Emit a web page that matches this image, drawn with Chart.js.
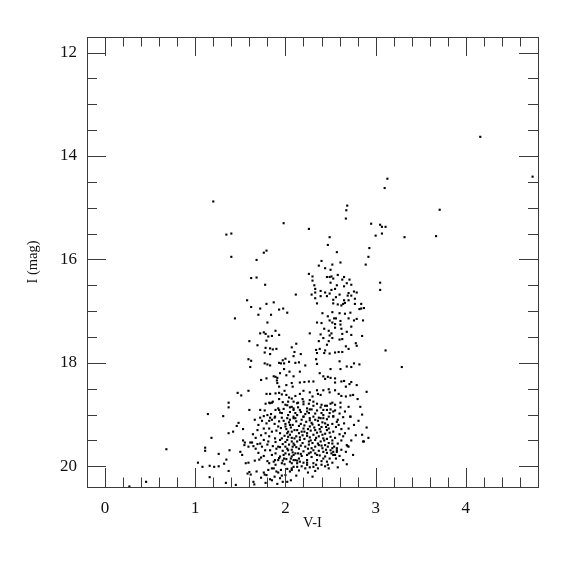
<!DOCTYPE html>
<html>
<head>
<meta charset="utf-8">
<script src="https://cdn.jsdelivr.net/npm/chart.js@4.4.1/dist/chart.umd.min.js"></script>
<style>
  body { margin: 0; background: #fff; }
  #cmd { display: block; }
</style>
</head>
<body>
<canvas id="cmd" width="575" height="575"></canvas>
<script>
// axis ranges (V-I colour, I magnitude)
var xMin = -0.2, xMax = 4.8;
var yMin = 11.7, yMax = 20.4;
var xLabels = [0, 1, 2, 3, 4];
var yLabels = [12, 14, 16, 18, 20];

// stars, as [V-I, I] pairs, grouped by region
var brightStars = [
    [4.16, 13.63], [4.74, 14.40], [3.13, 14.44], [3.10, 14.62], [2.685, 14.96], [2.675, 15.05],
    [3.71, 15.04], [2.67, 15.21], [1.98, 15.30], [2.95, 15.31], [3.05, 15.33], [3.07, 15.37],
    [3.11, 15.37], [2.26, 15.41], [3.07, 15.50], [3.00, 15.54], [3.32, 15.57], [3.67, 15.55],
    [2.49, 15.57], [2.47, 15.72], [2.57, 15.86], [2.93, 15.78], [2.92, 15.95], [2.89, 16.10],
    [1.20, 14.88], [1.345, 15.52], [1.40, 15.50], [1.40, 15.95], [3.05, 16.45], [3.05, 16.59],
    [3.11, 17.76], [3.29, 18.08]
];

var giantBranch = [
    [2.40, 16.03], [2.61, 16.06], [2.52, 16.10], [2.37, 16.12], [2.44, 16.17], [2.50, 16.20],
    [2.26, 16.28], [2.30, 16.33], [2.46, 16.34], [2.49, 16.34], [2.51, 16.33], [2.58, 16.30],
    [2.65, 16.34], [2.63, 16.39], [2.53, 16.37], [2.71, 16.39], [2.30, 16.41], [2.68, 16.46],
    [2.50, 16.45], [2.32, 16.50], [2.73, 16.49], [2.57, 16.50], [2.65, 16.52], [2.55, 16.57],
    [2.33, 16.57], [2.51, 16.59], [2.49, 16.66], [2.60, 16.68], [2.70, 16.65], [2.69, 16.70],
    [2.76, 16.62], [2.79, 16.64], [2.39, 16.61], [2.44, 16.64], [2.29, 16.68], [2.33, 16.64],
    [2.115, 16.68], [2.46, 16.71], [2.56, 16.73], [2.39, 16.71], [2.73, 16.70], [2.77, 16.76],
    [2.33, 16.75], [2.65, 16.79], [2.70, 16.79], [2.53, 16.78], [2.35, 16.85], [2.53, 16.85],
    [2.58, 16.87], [2.62, 16.89], [2.66, 16.84], [2.64, 16.86], [2.77, 16.86], [2.84, 16.86],
    [2.82, 16.96], [2.84, 16.95], [2.87, 16.94], [2.02, 17.03], [2.41, 17.04], [2.47, 17.10],
    [2.52, 17.02], [2.56, 17.14], [2.60, 17.04], [2.66, 17.05], [2.72, 17.03], [2.35, 17.22],
    [2.40, 17.23], [2.49, 17.18], [2.52, 17.22], [2.54, 17.14], [2.55, 17.25], [2.61, 17.19],
    [2.61, 17.26], [2.70, 17.14], [2.76, 17.18], [2.79, 17.15], [2.86, 17.18], [2.73, 17.30],
    [2.43, 17.34], [2.55, 17.32], [2.62, 17.34], [2.68, 17.40], [2.63, 17.44], [2.73, 17.46],
    [2.48, 17.38], [2.51, 17.43], [2.49, 17.47], [2.52, 17.52], [2.27, 17.43], [2.39, 17.45],
    [2.42, 17.52], [2.60, 17.55], [2.63, 17.54], [2.85, 17.48], [2.37, 17.58], [2.48, 17.58],
    [2.46, 17.65], [2.78, 17.62], [2.79, 17.67], [2.07, 17.70], [2.12, 17.63], [2.10, 17.79],
    [2.34, 17.75], [2.35, 17.81], [2.38, 17.73], [2.43, 17.81], [2.44, 17.76], [2.49, 17.82],
    [2.55, 17.80], [2.59, 17.79], [2.67, 17.68], [2.70, 17.73], [2.63, 17.79], [2.09, 17.87],
    [2.17, 17.83], [2.34, 17.93], [2.35, 18.02], [2.60, 17.97], [2.68, 18.07], [2.73, 18.08],
    [2.76, 18.01], [2.82, 18.03], [2.50, 18.12], [2.61, 18.12]
];

var blueSide = [
    [1.76, 15.87], [1.79, 15.83], [1.68, 16.01], [1.62, 16.36], [1.68, 16.35], [1.775, 16.49],
    [1.575, 16.79], [1.87, 16.83], [1.79, 16.86], [1.62, 16.92], [1.72, 16.95], [1.93, 16.97],
    [1.975, 16.95], [1.70, 17.07], [1.84, 17.07], [1.44, 17.14], [1.80, 17.22], [1.72, 17.43],
    [1.76, 17.41], [1.78, 17.44], [1.81, 17.49], [1.85, 17.48], [1.89, 17.38], [1.93, 17.46],
    [1.60, 17.58], [1.69, 17.66], [1.79, 17.57], [1.78, 17.71], [1.83, 17.72], [1.86, 17.74],
    [1.90, 17.73], [1.77, 17.80], [1.83, 17.83], [1.59, 17.93], [1.62, 17.96], [1.61, 18.08],
    [1.77, 18.01], [1.80, 18.03], [1.83, 18.05], [1.93, 18.00], [1.73, 18.33], [1.79, 18.30],
    [1.87, 18.26], [1.89, 18.27], [1.91, 18.29], [1.905, 18.34], [1.91, 18.39], [1.93, 18.46],
    [1.59, 18.54], [1.47, 18.58], [1.51, 18.63], [1.79, 18.60], [1.83, 18.60], [1.89, 18.59],
    [1.93, 18.58], [1.82, 18.77], [1.85, 18.77], [1.93, 18.70], [1.37, 18.77], [1.37, 18.86],
    [1.14, 18.99], [1.31, 19.03], [1.60, 18.91], [1.72, 18.91], [1.77, 18.92], [1.80, 19.01],
    [1.84, 18.99], [1.89, 18.91], [1.93, 18.91], [1.72, 19.06], [1.83, 19.06], [1.88, 19.06],
    [1.78, 18.79], [1.83, 18.78], [1.86, 18.75], [1.92, 18.88], [2.00, 17.92], [1.97, 17.95],
    [1.985, 18.01], [1.95, 18.01], [2.04, 17.98], [2.11, 18.00], [2.15, 17.99], [2.22, 18.05],
    [1.985, 18.12], [1.94, 18.20], [2.045, 18.17], [2.16, 18.17], [2.09, 18.26], [2.01, 18.24]
];

var upperCore = [
    [2.38, 18.20], [2.42, 18.26], [2.47, 18.27], [2.44, 18.31], [2.50, 18.29], [2.55, 18.38],
    [2.55, 18.30], [2.62, 18.36], [2.65, 18.35], [2.67, 18.46], [2.71, 18.41], [2.73, 18.37],
    [2.79, 18.43], [2.21, 18.37], [2.26, 18.36], [2.31, 18.36], [2.16, 18.38], [2.07, 18.39],
    [2.01, 18.43], [2.08, 18.46], [1.99, 18.54], [1.96, 18.61], [2.01, 18.62], [2.04, 18.67],
    [2.90, 18.56], [2.72, 18.63], [2.75, 18.62], [2.67, 18.65], [2.62, 18.64], [2.59, 18.60],
    [2.55, 18.53], [2.49, 18.57], [2.48, 18.51], [2.42, 18.53], [2.39, 18.62], [2.36, 18.60],
    [2.35, 18.53], [2.27, 18.57], [2.20, 18.54], [2.16, 18.60], [2.11, 18.64], [2.07, 18.69],
    [2.19, 18.70], [2.27, 18.72], [2.30, 18.65], [1.97, 18.76], [2.02, 18.82], [2.05, 18.86],
    [1.98, 18.89], [1.94, 18.96], [2.09, 18.91], [2.13, 18.78], [2.14, 18.86], [2.20, 18.80],
    [2.24, 18.88], [2.27, 18.90], [2.31, 18.83], [2.35, 18.79], [2.39, 18.86], [2.42, 18.91],
    [2.46, 18.83], [2.50, 18.90], [2.55, 18.92], [2.61, 18.86], [2.52, 18.77], [2.66, 18.94],
    [2.72, 19.04], [2.42, 19.01], [2.31, 19.04], [2.20, 19.04], [2.09, 19.04], [2.02, 19.07],
    [2.11, 18.97], [2.26, 18.97], [2.39, 19.07], [2.53, 19.04], [2.83, 18.85], [2.00, 18.81],
    [2.03, 18.75], [2.07, 18.85]
];

var lowerCore = [
    [2.09, 18.75], [2.14, 18.77], [2.20, 18.75], [2.26, 18.79], [2.31, 18.75], [2.40, 18.81],
    [2.44, 18.83], [2.50, 18.79], [2.55, 18.81], [2.61, 18.77], [2.09, 18.88], [2.16, 18.91],
    [2.24, 18.94], [2.29, 18.90], [2.35, 18.92], [2.40, 18.97], [2.46, 18.91], [2.53, 18.94],
    [2.48, 19.04], [2.42, 19.07], [2.53, 19.03], [2.13, 19.01], [2.20, 19.04], [2.27, 19.07],
    [2.33, 19.10], [2.05, 19.10], [2.72, 19.04], [2.65, 19.17], [2.70, 19.27], [2.66, 19.36],
    [2.57, 19.14], [2.52, 19.18], [2.44, 19.17], [2.37, 19.20], [2.27, 19.23], [2.20, 19.27],
    [2.13, 19.30], [2.07, 19.33], [2.24, 19.36], [2.31, 19.39], [2.39, 19.33], [2.46, 19.30],
    [2.50, 19.43], [2.42, 19.46], [2.33, 19.49], [2.26, 19.52], [2.16, 19.49], [2.09, 19.56],
    [2.22, 19.62], [2.29, 19.65], [2.37, 19.59], [2.44, 19.59], [2.52, 19.56], [2.57, 19.65],
    [2.50, 19.69], [2.42, 19.72], [2.33, 19.75], [2.24, 19.78], [2.14, 19.75], [2.07, 19.81],
    [2.16, 19.91], [2.24, 19.88], [2.35, 19.88], [2.44, 19.81], [2.53, 19.78], [2.57, 19.72],
    [2.68, 19.59], [2.70, 19.62], [2.40, 19.97], [2.31, 20.01], [2.24, 19.97], [2.13, 20.01],
    [2.07, 20.07], [2.22, 20.04], [2.33, 20.09], [2.48, 20.04], [2.46, 19.91], [2.85, 19.39],
    [2.87, 19.52], [2.52, 19.65], [2.53, 19.72], [2.57, 19.69], [2.55, 19.78], [2.69, 19.61],
    [2.86, 19.52]
];

var faintBlue = [
    [0.68, 19.67], [1.11, 19.64], [1.11, 19.70], [1.03, 19.93], [1.08, 20.01], [1.16, 19.99],
    [1.16, 20.21], [0.455, 20.30], [0.27, 20.39], [1.21, 20.01], [1.26, 20.00], [1.32, 19.95],
    [1.26, 19.76], [1.345, 19.87], [1.38, 19.69], [1.37, 20.09], [1.34, 20.32], [1.45, 20.36],
    [1.50, 19.72], [1.52, 19.78], [1.545, 19.59], [1.53, 19.50], [1.56, 19.94], [1.60, 20.11],
    [1.58, 20.14], [1.615, 20.16], [1.655, 20.35], [1.645, 20.30], [1.61, 19.54], [1.645, 19.61],
    [1.69, 19.57], [1.76, 20.12], [1.77, 20.16], [1.81, 20.07], [1.83, 20.25], [1.87, 20.04],
    [1.92, 20.12], [1.94, 20.23], [1.97, 20.30], [1.96, 20.18], [2.05, 20.10], [2.07, 20.04],
    [1.82, 19.94], [1.87, 19.91], [1.92, 19.88], [1.985, 19.85], [2.09, 19.88], [2.09, 19.78],
    [2.13, 19.94], [1.48, 19.16], [1.46, 19.22], [1.53, 19.28], [1.37, 19.36], [1.42, 19.33],
    [1.18, 19.45], [1.63, 19.54], [1.55, 19.54], [1.59, 19.62], [1.72, 19.56], [1.76, 19.49],
    [1.81, 19.52], [1.885, 19.46], [1.94, 19.49], [2.03, 19.43], [1.59, 19.93], [1.66, 19.89],
    [1.71, 19.87], [1.76, 19.80], [1.775, 19.69], [1.68, 20.10], [1.85, 20.04], [1.90, 20.10],
    [1.79, 20.17], [1.85, 20.27], [2.02, 20.30], [2.00, 20.17], [2.09, 20.01], [1.885, 19.88],
    [1.94, 19.81], [2.00, 19.75], [2.03, 19.69], [2.08, 19.62], [2.11, 19.75], [2.11, 19.88],
    [2.05, 19.91], [1.96, 19.94], [1.85, 19.78], [1.83, 19.69], [1.92, 19.62], [2.00, 19.62],
    [2.07, 19.52], [1.94, 19.36], [1.85, 19.33], [1.76, 19.27], [1.79, 19.17], [1.70, 19.20],
    [1.85, 19.10], [1.885, 19.04], [1.96, 18.97], [2.03, 19.01], [2.09, 19.07], [2.05, 19.20],
    [2.00, 19.23], [1.92, 19.23], [2.10, 19.30], [2.10, 19.46], [2.02, 19.36]
];

// the crowded part of the main sequence, estimated where single stars blend
var coreFill = [
    [1.98, 19.12], [2.04, 19.15], [2.12, 19.13], [2.17, 19.18], [2.23, 19.14], [2.29, 19.16],
    [2.36, 19.12], [2.41, 19.15], [2.47, 19.20], [2.15, 19.22], [2.25, 19.28], [2.32, 19.25],
    [2.40, 19.24], [2.48, 19.27], [2.56, 19.24], [2.62, 19.28], [2.01, 19.28], [2.06, 19.25],
    [2.18, 19.33], [2.28, 19.31], [2.35, 19.35], [2.44, 19.37], [2.53, 19.33], [2.60, 19.38],
    [1.99, 19.41], [2.05, 19.39], [2.12, 19.42], [2.19, 19.40], [2.27, 19.44], [2.37, 19.42],
    [2.46, 19.47], [2.55, 19.45], [2.62, 19.50], [2.02, 19.49], [2.13, 19.52], [2.21, 19.47],
    [2.30, 19.55], [2.39, 19.52], [2.48, 19.55], [2.58, 19.56], [1.97, 19.57], [2.04, 19.58],
    [2.17, 19.60], [2.26, 19.58], [2.33, 19.62], [2.41, 19.65], [2.47, 19.62], [1.90, 19.66],
    [1.97, 19.70], [2.07, 19.68], [2.15, 19.66], [2.20, 19.71], [2.28, 19.73], [2.37, 19.70],
    [2.46, 19.74], [2.62, 19.68], [1.89, 19.75], [2.04, 19.77], [2.18, 19.80], [2.29, 19.82],
    [2.38, 19.79], [2.49, 19.85], [2.60, 19.80], [1.93, 19.84], [2.01, 19.86], [2.15, 19.85],
    [2.20, 19.93], [2.31, 19.94], [2.40, 19.90], [2.52, 19.93], [2.64, 19.88], [1.99, 19.96],
    [2.07, 19.94], [2.18, 20.00], [2.27, 20.02], [2.36, 20.04], [2.44, 20.00], [1.89, 19.97],
    [1.80, 19.90], [1.73, 19.83], [1.70, 19.74], [1.67, 19.66], [1.74, 19.62], [1.80, 19.58],
    [1.86, 19.61], [1.89, 19.53], [1.82, 19.42], [1.78, 19.36], [1.73, 19.40], [1.67, 19.45],
    [1.64, 19.38], [1.69, 19.30], [1.82, 19.27], [1.90, 19.31], [1.95, 19.26], [1.88, 19.18],
    [1.93, 19.13], [1.82, 19.12], [1.74, 19.12], [1.66, 19.10], [1.76, 19.03], [1.96, 19.06],
    [2.15, 20.08], [2.25, 20.12], [2.02, 20.05], [1.95, 20.07], [1.88, 20.20], [2.12, 20.18],
    [2.30, 20.20], [1.73, 20.22], [1.78, 20.32], [1.91, 20.34], [2.06, 20.27], [2.58, 20.02],
    [2.68, 19.96], [2.75, 19.78], [2.73, 19.50], [2.78, 19.40], [2.76, 19.20], [2.64, 19.05],
    [2.60, 18.98], [2.70, 18.85], [2.80, 18.70], [2.85, 19.00], [2.81, 19.12], [2.90, 19.25],
    [2.92, 19.45], [2.00, 19.18], [2.08, 19.20], [2.21, 19.21], [2.30, 19.19], [2.38, 19.28],
    [2.45, 19.24], [2.03, 19.33], [2.15, 19.36], [2.21, 19.33], [2.33, 19.30], [2.41, 19.39],
    [2.49, 19.35], [1.96, 19.46], [2.07, 19.45], [2.16, 19.44], [2.24, 19.41], [2.34, 19.45],
    [2.43, 19.50], [2.52, 19.50], [2.00, 19.53], [2.10, 19.59], [2.19, 19.55], [2.28, 19.50],
    [2.36, 19.56], [2.45, 19.68], [2.54, 19.62], [1.94, 19.63], [2.02, 19.66], [2.12, 19.63],
    [2.25, 19.66], [2.31, 19.69], [2.40, 19.60], [2.51, 19.75], [1.98, 19.78], [2.08, 19.73],
    [2.17, 19.76], [2.26, 19.75], [2.35, 19.78], [2.42, 19.85], [2.56, 19.85], [1.97, 19.89],
    [2.06, 19.85], [2.13, 19.89], [2.24, 19.93], [2.34, 19.97], [2.47, 19.97], [2.11, 19.07],
    [2.18, 19.10], [2.27, 19.11], [2.37, 19.06], [2.46, 19.09], [2.58, 19.10], [2.22, 18.99],
    [2.33, 18.98], [2.49, 18.97], [2.59, 19.20], [2.64, 19.42], [2.67, 19.72], [2.05, 18.95],
    [2.17, 18.95]
];

var allStars = brightStars.concat(giantBranch, blueSide, upperCore, lowerCore, faintBlue, coreFill);

function isWhole(v, step) {
    var q = v / step;
    return Math.abs(q - Math.round(q)) < 1e-6;
}

// frame with inward ticks on all four sides (minor 0.2 / 0.5, major 1 / 2)
var frameTicks = {
    id: 'frameTicks',
    afterDatasetsDraw: function (chart) {
        var ctx = chart.ctx;
        var a = chart.chartArea;
        var xs = chart.scales.x, ys = chart.scales.y;
        ctx.save();
        ctx.strokeStyle = '#3a3a3a';
        ctx.lineWidth = 1;
        ctx.beginPath();
        for (var i = Math.ceil(xMin / 0.2 - 1e-6); i * 0.2 <= xMax + 1e-6; i++) {
            var v = i * 0.2;
            var px = Math.round(xs.getPixelForValue(v)) + 0.5;
            var len = isWhole(v, 1) ? 19 : 9.5;
            ctx.moveTo(px, a.bottom); ctx.lineTo(px, a.bottom - len);
            ctx.moveTo(px, a.top); ctx.lineTo(px, a.top + len);
        }
        for (var j = Math.ceil(yMin / 0.5 - 1e-6); j * 0.5 <= yMax + 1e-6; j++) {
            var w = j * 0.5;
            var py = Math.round(ys.getPixelForValue(w)) + 0.5;
            var ln = isWhole(w, 2) ? 19 : 10;
            ctx.moveTo(a.left, py); ctx.lineTo(a.left + ln, py);
            ctx.moveTo(a.right, py); ctx.lineTo(a.right - ln, py);
        }
        ctx.stroke();
        ctx.strokeRect(Math.round(a.left) + 0.5, Math.round(a.top) + 0.5,
            Math.round(a.right - a.left), Math.round(a.bottom - a.top));
        ctx.restore();
    }
};

var serif = 'Liberation Serif';

new Chart(document.getElementById('cmd'), {
    type: 'scatter',
    data: {
        datasets: [{
            label: 'stars',
            data: allStars.map(function (s) { return { x: s[0], y: s[1] }; }),
            backgroundColor: '#000',
            borderWidth: 0,
            pointStyle: 'rect',
            pointRadius: 1.5
        }]
    },
    options: {
        responsive: false,
        animation: false,
        events: [],
        layout: { padding: { top: 37, right: 37, left: 0, bottom: 0 } },
        plugins: { legend: { display: false }, tooltip: { enabled: false } },
        scales: {
            x: {
                type: 'linear',
                min: xMin,
                max: xMax,
                grid: { display: false, drawTicks: false },
                border: { display: false },
                afterBuildTicks: function (s) { s.ticks = xLabels.map(function (v) { return { value: v }; }); },
                afterFit: function (s) { s.height = 88; },
                ticks: {
                    autoSkip: false,
                    maxRotation: 0,
                    padding: 11,
                    color: '#111',
                    font: { family: serif, size: 17 }
                },
                title: {
                    display: true,
                    text: 'V-I',
                    color: '#111',
                    font: { family: serif, size: 14.5 },
                    padding: { top: 0, bottom: 43 }
                }
            },
            y: {
                type: 'linear',
                reverse: true,
                min: yMin,
                max: yMax,
                grid: { display: false, drawTicks: false },
                border: { display: false },
                afterBuildTicks: function (s) { s.ticks = yLabels.map(function (v) { return { value: v }; }); },
                afterFit: function (s) { s.width = 87; },
                ticks: {
                    autoSkip: false,
                    padding: 10,
                    color: '#111',
                    font: { family: serif, size: 17 }
                },
                title: {
                    display: true,
                    text: 'I (mag)',
                    color: '#111',
                    font: { family: serif, size: 14.5 },
                    padding: { top: 24, bottom: 0 }
                }
            }
        }
    },
    plugins: [frameTicks]
});
</script>
</body>
</html>
